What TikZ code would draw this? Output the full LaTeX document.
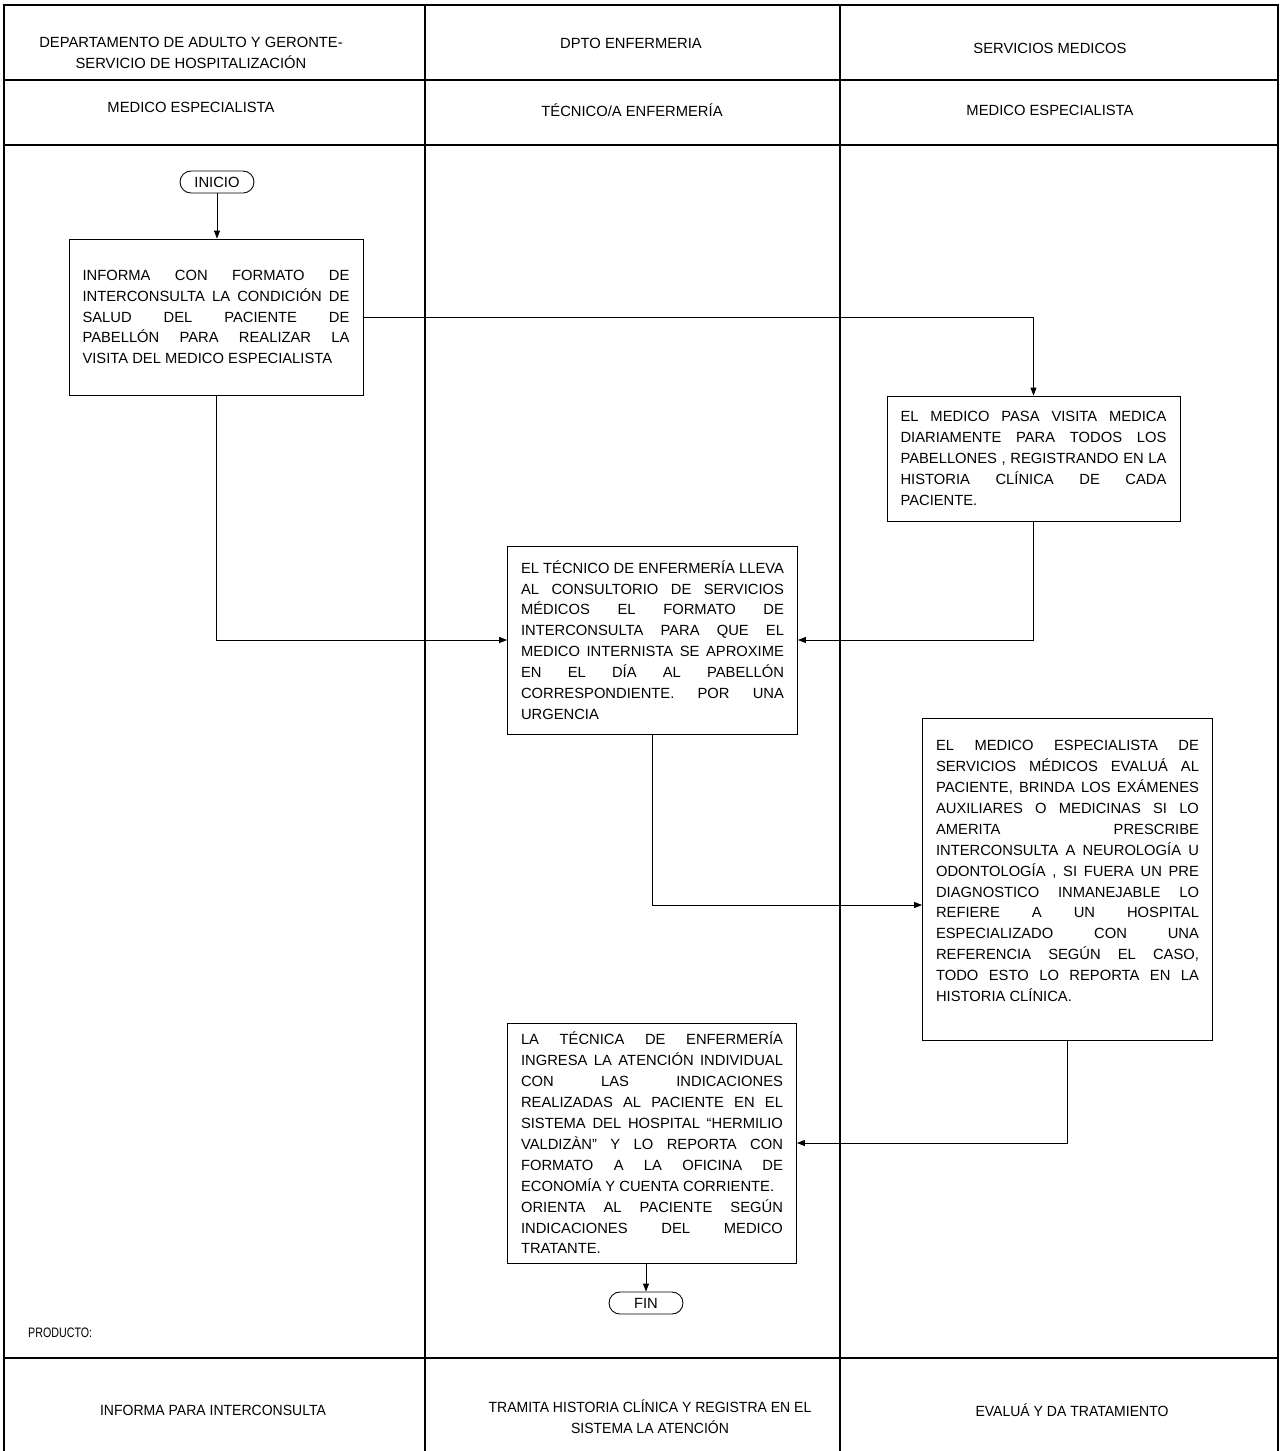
\documentclass[tikz,border=0pt]{standalone}
\usepackage{fontspec}
\setmainfont{Liberation Sans}
\usetikzlibrary{arrows.meta}
\hyphenpenalty=10000
\hbadness=10000
\begin{document}
\begin{tikzpicture}[x=0.02cm,y=-0.02cm,
  font=\fontsize{8.4}{11.9}\selectfont,
  caja/.style={draw, rectangle, align=justify, inner xsep=0.27cm, inner ysep=0pt, line width=0.5pt},
  term/.style={draw, rounded corners=0.22cm, minimum width=1.48cm, minimum height=0.44cm, inner sep=0pt, line width=0.5pt},
  pie/.style={font=\fontsize{8.4}{11.9}\selectfont\addfontfeatures{FakeStretch=0.95}},
  flecha/.style={-{Triangle[length=1.6mm,width=1.2mm]}, line width=0.5pt}]
\useasboundingbox (0,0) rectangle (1282,1451);
\draw[line width=1pt] (4,1451)--(4,5)--(1278,5)--(1278,1451);
\draw[line width=1pt] (4,80)--(1278,80) (4,145)--(1278,145) (4,1358)--(1278,1358);
\draw[line width=1pt] (425,5)--(425,1451) (840,5)--(840,1451);
\node[align=center] (dep) at (191,53) {DEPARTAMENTO DE ADULTO Y GERONTE-\\SERVICIO DE HOSPITALIZACIÓN};
\node (dpto) at (631,43) {DPTO ENFERMERIA};
\node (serv) at (1050,48) {SERVICIOS MEDICOS};
\node (med1) at (191,107) {MEDICO ESPECIALISTA};
\node (tec) at (632,110) {TÉCNICO/A ENFERMERÍA};
\node (med2) at (1050,110) {MEDICO ESPECIALISTA};
\node[term] (inicio) at (217,182) {INICIO};
\node[caja, text width=5.34cm, minimum height=3.12cm] (informa) at (216,317) {INFORMA CON FORMATO DE\linebreak INTERCONSULTA LA CONDICIÓN DE\linebreak SALUD DEL PACIENTE DE\linebreak PABELLÓN PARA REALIZAR LA\linebreak VISITA DEL MEDICO ESPECIALISTA};
\node[caja, text width=5.32cm, minimum height=2.5cm] (visita) at (1033.5,458.5) {EL MEDICO PASA VISITA MEDICA\linebreak DIARIAMENTE PARA TODOS LOS\linebreak PABELLONES , REGISTRANDO EN LA\linebreak HISTORIA CLÍNICA DE CADA\linebreak PACIENTE.};
\node[caja, text width=5.26cm, minimum height=3.76cm] (lleva) at (652.5,640) {EL TÉCNICO DE ENFERMERÍA LLEVA\linebreak AL CONSULTORIO DE SERVICIOS\linebreak MÉDICOS EL FORMATO DE\linebreak INTERCONSULTA PARA QUE EL\linebreak MEDICO INTERNISTA SE APROXIME\linebreak EN EL DÍA AL PABELLÓN\linebreak CORRESPONDIENTE. POR UNA\linebreak URGENCIA};
\node[caja, text width=5.26cm, minimum height=6.44cm] (evalua) at (1067.5,879) {EL MEDICO ESPECIALISTA DE\linebreak SERVICIOS MÉDICOS EVALUÁ AL\linebreak PACIENTE, BRINDA LOS EXÁMENES\linebreak AUXILIARES O MEDICINAS SI LO\linebreak AMERITA PRESCRIBE\linebreak INTERCONSULTA A NEUROLOGÍA U\linebreak ODONTOLOGÍA , SI FUERA UN PRE\linebreak DIAGNOSTICO INMANEJABLE LO\linebreak REFIERE A UN HOSPITAL\linebreak ESPECIALIZADO CON UNA\linebreak REFERENCIA SEGÚN EL CASO,\linebreak TODO ESTO LO REPORTA EN LA\linebreak HISTORIA CLÍNICA.\par\kern0.32cm};
\node[caja, text width=5.24cm, minimum height=4.8cm] (ingresa) at (652,1143) {LA TÉCNICA DE ENFERMERÍA\linebreak INGRESA LA ATENCIÓN INDIVIDUAL\linebreak CON LAS INDICACIONES\linebreak REALIZADAS AL PACIENTE EN EL\linebreak SISTEMA DEL HOSPITAL “HERMILIO\linebreak VALDIZÀN” Y LO REPORTA CON\linebreak FORMATO A LA OFICINA DE\linebreak ECONOMÍA Y CUENTA CORRIENTE.\\ ORIENTA AL PACIENTE SEGÚN\linebreak INDICACIONES DEL MEDICO\linebreak TRATANTE.};
\node[term] (fin) at (646,1303) {FIN};
\draw[flecha] (inicio.south) -- (inicio.south |- informa.north);
\draw[flecha] (informa.east) -| (visita.north);
\draw[flecha] (informa.south) |- (lleva.west);
\draw[flecha] (visita.south) |- (lleva.east);
\draw[flecha] (lleva.south) |- ([yshift=-0.52cm]evalua.west);
\draw[flecha] (evalua.south) |- (ingresa.east);
\draw[flecha] (fin.north |- ingresa.south) -- (fin.north);
\node[anchor=west, font=\fontsize{7.8}{9}\selectfont\addfontfeatures{FakeStretch=0.78}] (producto) at (22,1333) {PRODUCTO:};
\node[pie] (prod1) at (213,1410) {INFORMA PARA INTERCONSULTA};
\node[pie, align=center] (prod2) at (650,1417) {TRAMITA HISTORIA CLÍNICA Y REGISTRA EN EL\\SISTEMA LA ATENCIÓN};
\node[pie] (prod3) at (1072,1410) {EVALUÁ Y DA TRATAMIENTO};
\end{tikzpicture}
\end{document}
